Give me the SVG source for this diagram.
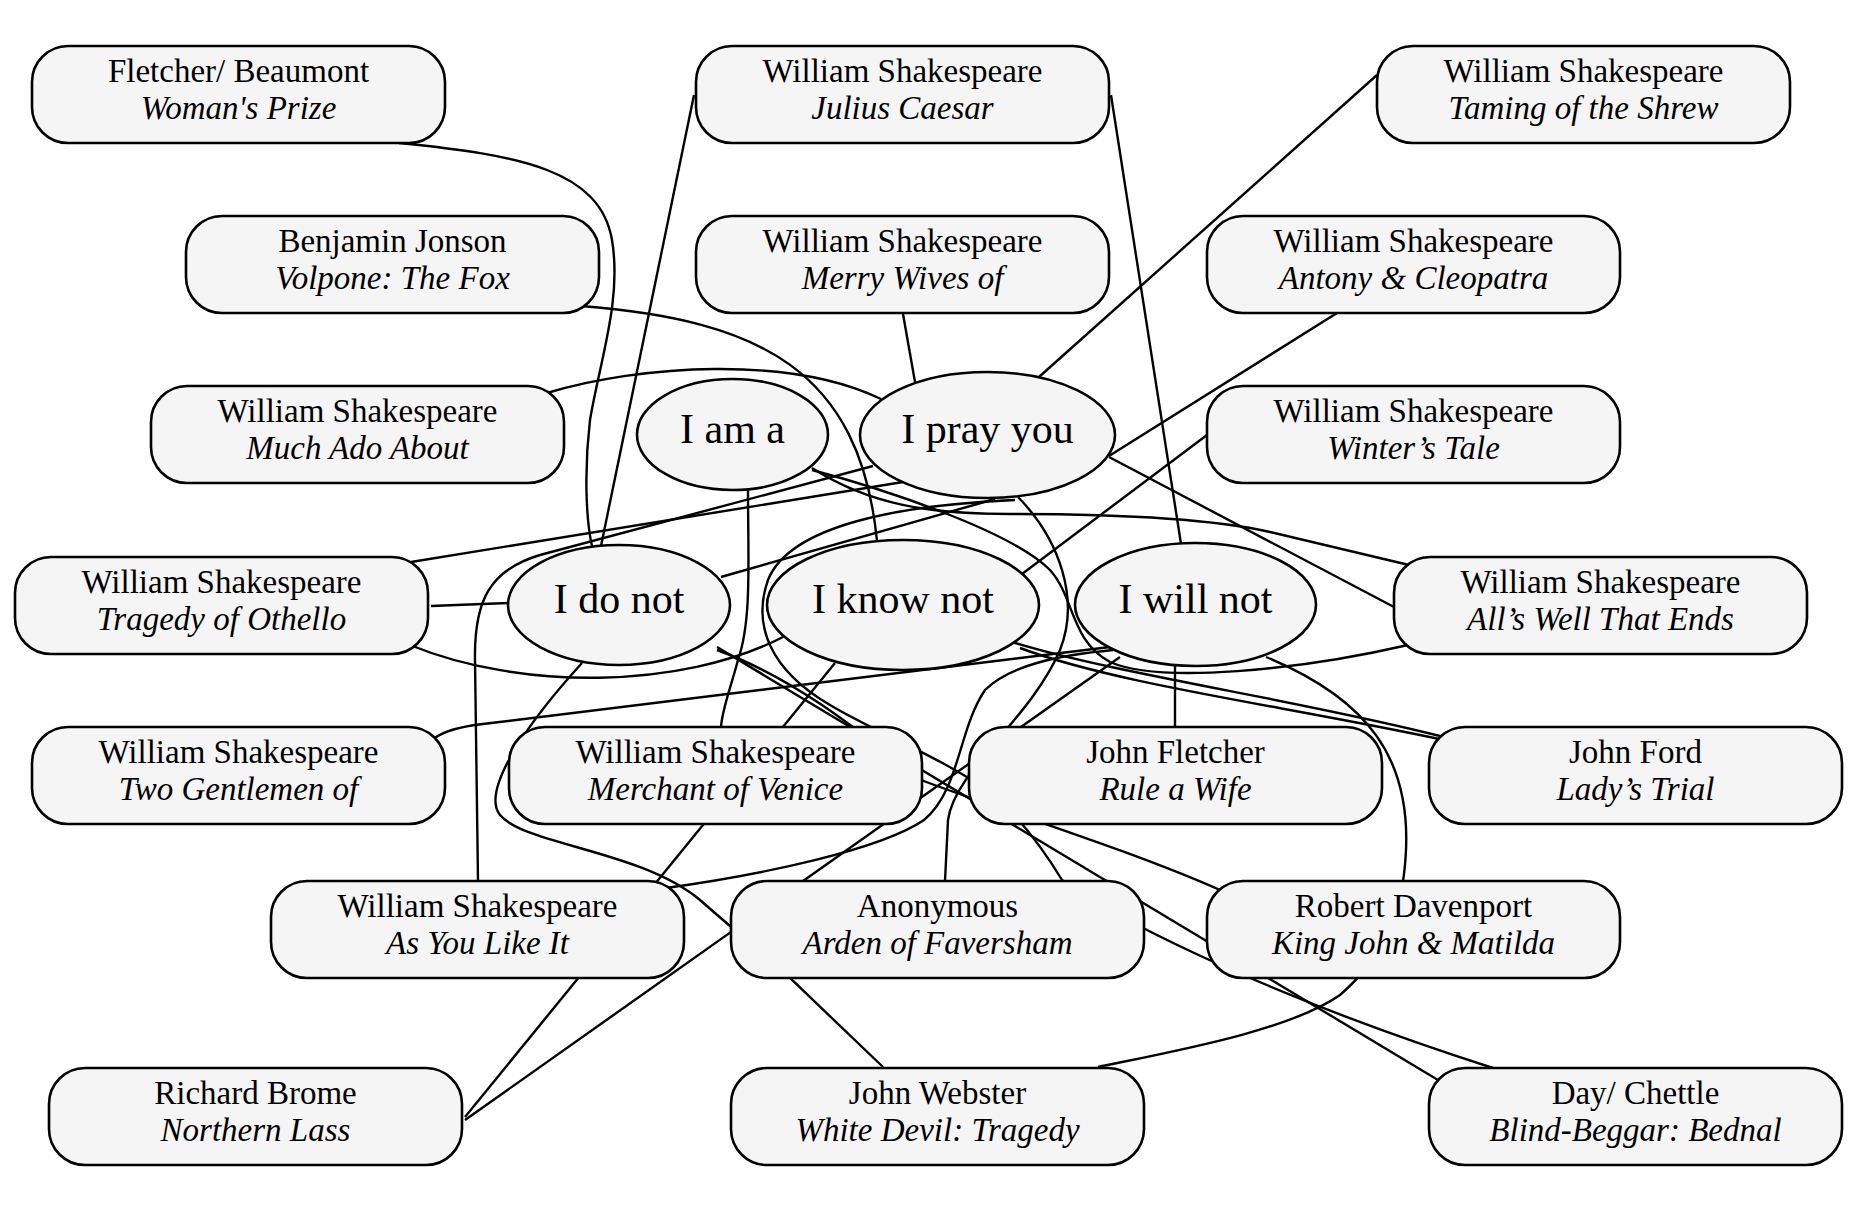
<svg xmlns="http://www.w3.org/2000/svg" width="1856" height="1212" viewBox="0 0 1856 1212">
<style>
.e{fill:none;stroke:#000;stroke-width:2.4}
.b{fill:#f5f5f5;stroke:#000;stroke-width:2.6}
.t{font-family:"Liberation Serif","Times New Roman",serif;font-size:33px;fill:#000;text-anchor:middle}
.i{font-style:italic}
.p{font-family:"Liberation Serif","Times New Roman",serif;font-size:42px;fill:#000;text-anchor:middle}
</style>
<rect width="1856" height="1212" fill="#fff"/>
<g id="connectors">
<path class="e" d="M399,143 C520,155 600,170 612,240 C622,300 600,360 590,420 C584,470 586,520 592,546"/>
<path class="e" d="M694,95 L601,546"/>
<path class="e" d="M1111,95 L1181,544"/>
<path class="e" d="M1377,75 L1039,377"/>
<path class="e" d="M903,314 L915,382"/>
<path class="e" d="M581,306 C760,320 860,370 877,541"/>
<path class="e" d="M547,393 C640,365 790,355 881,399"/>
<path class="e" d="M1337,313 L1109,456"/>
<path class="e" d="M1207,435 L1022,574"/>
<path class="e" d="M1109,457 L1394,607"/>
<path class="e" d="M812,468 C870,505 930,514 1010,514 S1200,516 1270,532 L1409,565"/>
<path class="e" d="M812,470 C880,488 1010,530 1050,570 C1075,598 1070,640 1110,662 C1160,684 1300,670 1408,645"/>
<path class="e" d="M431,606 L508,603"/>
<path class="e" d="M411,562 L903,482"/>
<path class="e" d="M410,645 C520,690 680,690 783,637"/>
<path class="e" d="M478,881 L475,660 C474,600 490,570 540,555 L873,466"/>
<path class="e" d="M995,499 L721,577"/>
<path class="e" d="M582,663 C530,720 480,790 500,815 C525,845 640,850 700,900 C740,935 770,960 790,978 L883,1067"/>
<path class="e" d="M435,738 Q448,728 483,724 L1110,647"/>
<path class="e" d="M748,490 C748,560 752,620 738,660 C730,690 722,710 721,727"/>
<path class="e" d="M1018,497 C1060,540 1080,600 1060,650 C1030,720 955,770 948,820 L945,881"/>
<path class="e" d="M1015,500 C900,505 790,525 768,580 C752,625 770,670 830,705 C880,735 950,760 1000,800 C1030,830 1050,860 1062,880 C1100,910 1250,990 1493,1068"/>
<path class="e" d="M835,663 L465,1117"/>
<path class="e" d="M1120,657 L465,1120"/>
<path class="e" d="M1175,666 L1175,727"/>
<path class="e" d="M1266,657 C1370,700 1410,760 1406,850 C1403,920 1380,960 1340,995 C1290,1030 1180,1050 1098,1067"/>
<path class="e" d="M666,888 C760,875 880,850 924,820 C960,790 958,730 985,690 C1010,665 1060,655 1113,650"/>
<path class="e" d="M717,647 L1438,1080"/>
<path class="e" d="M717,650 C800,680 870,740 921,780 C1000,810 1130,850 1220,890"/>
<path class="e" d="M1012,642 C1120,675 1300,700 1444,737"/>
<path class="e" d="M1020,648 C1120,685 1280,705 1444,740"/>
</g>
<g id="n_fletcher"><rect class="b" x="32" y="46" width="413" height="97" rx="36"/><text class="t" x="238.5" y="82">Fletcher/ Beaumont<tspan class="i" x="238.5" dy="37">Woman's Prize</tspan></text></g>
<g id="n_julius"><rect class="b" x="696" y="46" width="413" height="97" rx="36"/><text class="t" x="902.5" y="82">William Shakespeare<tspan class="i" x="902.5" dy="37">Julius Caesar</tspan></text></g>
<g id="n_taming"><rect class="b" x="1377" y="46" width="413" height="97" rx="36"/><text class="t" x="1583.5" y="82">William Shakespeare<tspan class="i" x="1583.5" dy="37">Taming of the Shrew</tspan></text></g>
<g id="n_jonson"><rect class="b" x="186" y="216" width="413" height="97" rx="36"/><text class="t" x="392.5" y="252">Benjamin Jonson<tspan class="i" x="392.5" dy="37">Volpone: The Fox</tspan></text></g>
<g id="n_merry"><rect class="b" x="696" y="216" width="413" height="97" rx="36"/><text class="t" x="902.5" y="252">William Shakespeare<tspan class="i" x="902.5" dy="37">Merry Wives of</tspan></text></g>
<g id="n_antony"><rect class="b" x="1207" y="216" width="413" height="97" rx="36"/><text class="t" x="1413.5" y="252">William Shakespeare<tspan class="i" x="1413.5" dy="37">Antony &amp; Cleopatra</tspan></text></g>
<g id="n_muchado"><rect class="b" x="151" y="386" width="413" height="97" rx="36"/><text class="t" x="357.5" y="422">William Shakespeare<tspan class="i" x="357.5" dy="37">Much Ado About</tspan></text></g>
<g id="n_winter"><rect class="b" x="1207" y="386" width="413" height="97" rx="36"/><text class="t" x="1413.5" y="422">William Shakespeare<tspan class="i" x="1413.5" dy="37">Winter’s Tale</tspan></text></g>
<g id="n_othello"><rect class="b" x="15" y="557" width="413" height="97" rx="36"/><text class="t" x="221.5" y="593">William Shakespeare<tspan class="i" x="221.5" dy="37">Tragedy of Othello</tspan></text></g>
<g id="n_allswell"><rect class="b" x="1394" y="557" width="413" height="97" rx="36"/><text class="t" x="1600.5" y="593">William Shakespeare<tspan class="i" x="1600.5" dy="37">All’s Well That Ends</tspan></text></g>
<g id="n_twogent"><rect class="b" x="32" y="727" width="413" height="97" rx="36"/><text class="t" x="238.5" y="763">William Shakespeare<tspan class="i" x="238.5" dy="37">Two Gentlemen of</tspan></text></g>
<g id="n_merchant"><rect class="b" x="509" y="727" width="413" height="97" rx="36"/><text class="t" x="715.5" y="763">William Shakespeare<tspan class="i" x="715.5" dy="37">Merchant of Venice</tspan></text></g>
<g id="n_rulewife"><rect class="b" x="969" y="727" width="413" height="97" rx="36"/><text class="t" x="1175.5" y="763">John Fletcher<tspan class="i" x="1175.5" dy="37">Rule a Wife</tspan></text></g>
<g id="n_ford"><rect class="b" x="1429" y="727" width="413" height="97" rx="36"/><text class="t" x="1635.5" y="763">John Ford<tspan class="i" x="1635.5" dy="37">Lady’s Trial</tspan></text></g>
<g id="n_asyou"><rect class="b" x="271" y="881" width="413" height="97" rx="36"/><text class="t" x="477.5" y="917">William Shakespeare<tspan class="i" x="477.5" dy="37">As You Like It</tspan></text></g>
<g id="n_arden"><rect class="b" x="731" y="881" width="413" height="97" rx="36"/><text class="t" x="937.5" y="917">Anonymous<tspan class="i" x="937.5" dy="37">Arden of Faversham</tspan></text></g>
<g id="n_davenport"><rect class="b" x="1207" y="881" width="413" height="97" rx="36"/><text class="t" x="1413.5" y="917">Robert Davenport<tspan class="i" x="1413.5" dy="37">King John &amp; Matilda</tspan></text></g>
<g id="n_brome"><rect class="b" x="49" y="1068" width="413" height="97" rx="36"/><text class="t" x="255.5" y="1104">Richard Brome<tspan class="i" x="255.5" dy="37">Northern Lass</tspan></text></g>
<g id="n_webster"><rect class="b" x="731" y="1068" width="413" height="97" rx="36"/><text class="t" x="937.5" y="1104">John Webster<tspan class="i" x="937.5" dy="37">White Devil: Tragedy</tspan></text></g>
<g id="n_daychettle"><rect class="b" x="1429" y="1068" width="413" height="97" rx="36"/><text class="t" x="1635.5" y="1104">Day/ Chettle<tspan class="i" x="1635.5" dy="37">Blind-Beggar: Bednal</tspan></text></g>
<g id="p_iama"><ellipse class="b" cx="732.5" cy="434.5" rx="95.5" ry="55.5"/><text class="p" x="732.5" y="442.5">I am a</text></g>
<g id="p_ipray"><ellipse class="b" cx="987.5" cy="435" rx="127.5" ry="63"/><text class="p" x="987.5" y="443">I pray you</text></g>
<g id="p_idonot"><ellipse class="b" cx="619" cy="605" rx="111" ry="60"/><text class="p" x="619" y="613">I do not</text></g>
<g id="p_iknow"><ellipse class="b" cx="903" cy="605" rx="136" ry="65"/><text class="p" x="903" y="613">I know not</text></g>
<g id="p_iwill"><ellipse class="b" cx="1195.5" cy="604.5" rx="120.5" ry="61.5"/><text class="p" x="1195.5" y="612.5">I will not</text></g>
</svg>
